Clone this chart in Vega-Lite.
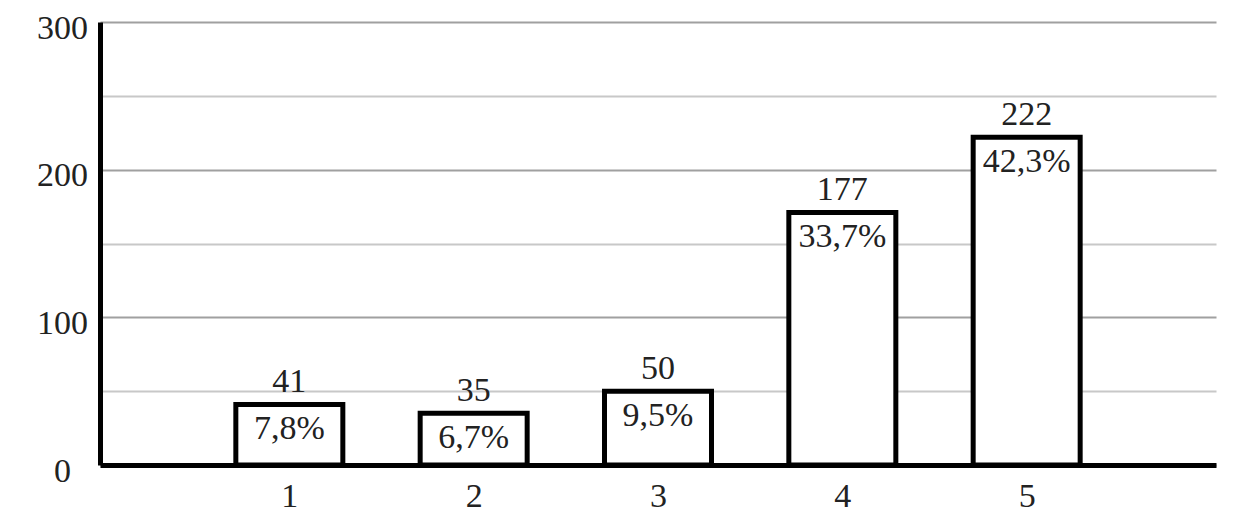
{
  "$schema": "https://vega.github.io/schema/vega-lite/v6.json",
  "width": 1116,
  "height": 443,
  "autosize": {"type": "none"},
  "padding": {"left": 100, "top": 22, "right": 24, "bottom": 67},
  "background": "white",
  "config": {"view": {"stroke": null}, "font": "Liberation Serif"},
  "data": {
    "values": [
      {"cat": 1, "bar": 41, "count": 41, "pct": "7,8%"},
      {"cat": 2, "bar": 35, "count": 35, "pct": "6,7%"},
      {"cat": 3, "bar": 50, "count": 50, "pct": "9,5%"},
      {"cat": 4, "bar": 171, "count": 177, "pct": "33,7%"},
      {"cat": 5, "bar": 222, "count": 222, "pct": "42,3%"}
    ]
  },
  "encoding": {
    "x": {
      "field": "cat",
      "type": "quantitative",
      "scale": {"domain": [0, 6], "nice": false, "zero": false},
      "axis": {
        "values": [1, 2, 3, 4, 5],
        "format": "d",
        "title": null,
        "grid": false,
        "ticks": false,
        "domainColor": "black",
        "domainWidth": 5,
        "labelFontSize": 34,
        "labelColor": "#222222",
        "labelPadding": 14,
        "labelFont": "Liberation Serif"
      }
    },
    "y": {
      "field": "bar",
      "type": "quantitative",
      "scale": {"domain": [0, 300], "nice": false},
      "axis": {
        "values": [0, 50, 100, 150, 200, 250, 300],
        "labelExpr": "datum.value % 100 === 0 ? datum.label : ''",
        "title": null,
        "grid": true,
        "gridColor": {"condition": {"test": "datum.value % 100 === 0", "value": "#a0a0a0"}, "value": "#c8c8c8"},
        "gridWidth": 2,
        "ticks": false,
        "domainColor": "black",
        "domainWidth": 5,
        "labelAlign": "center",
        "labelPadding": 38,
        "labelBaseline": "middle",
        "labelOffset": 6,
        "labelFontSize": 34,
        "labelColor": "#222222",
        "labelFont": "Liberation Serif"
      }
    }
  },
  "layer": [
    {
      "mark": {"type": "bar", "width": 107, "fill": "white", "stroke": "black", "strokeWidth": 5}
    },
    {
      "mark": {"type": "text", "fontSize": 34, "baseline": "alphabetic", "dy": -12, "color": "#222222", "font": "Liberation Serif"},
      "encoding": {"text": {"field": "count", "type": "quantitative"}}
    },
    {
      "mark": {"type": "text", "fontSize": 34, "baseline": "alphabetic", "dy": 35, "color": "#222222", "font": "Liberation Serif"},
      "encoding": {"text": {"field": "pct", "type": "nominal"}}
    }
  ]
}
